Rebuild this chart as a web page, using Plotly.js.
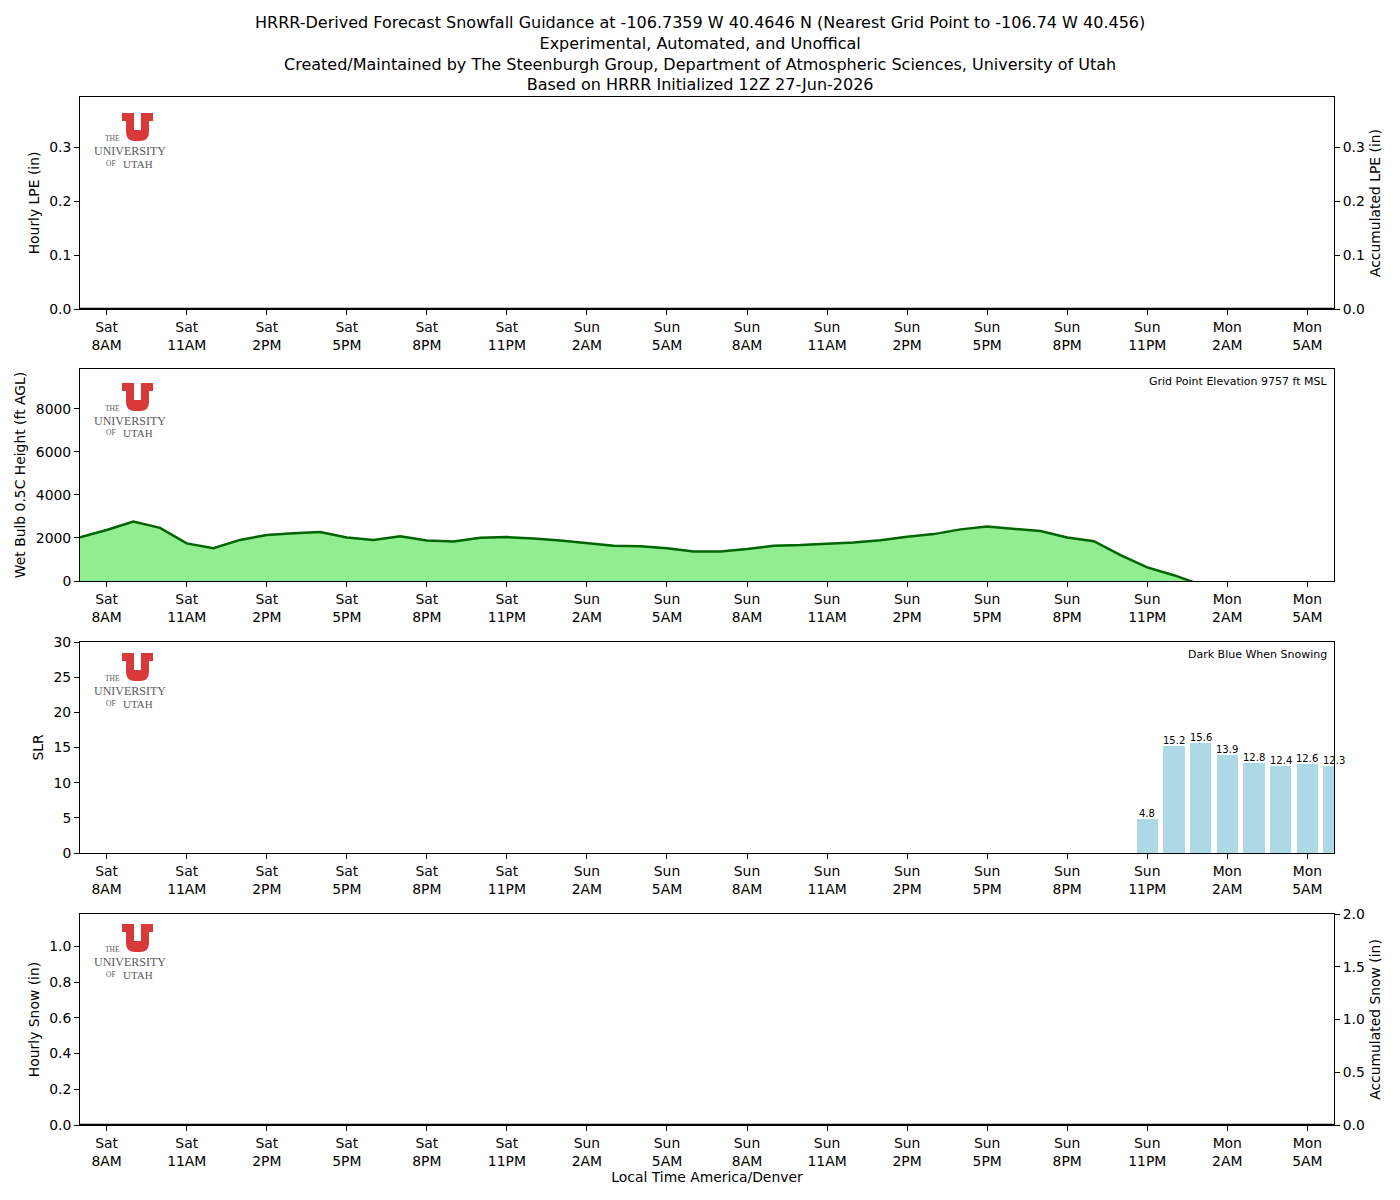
<!DOCTYPE html>
<html>
<head>
<meta charset="utf-8">
<script src="https://cdn.plot.ly/plotly-3.0.1.min.js"></script>
<style>html,body{margin:0;padding:0;background:#fff;}#chart{width:1400px;height:1200px;}</style>
</head>
<body>
<div id="chart"></div>
<script>
// ---------------- DATA ----------------
// hour offset from the first forecast hour (Sat 7AM local)
const hourIndex = [0,1,2,3,4,5,6,7,8,9,10,11,12,13,14,15,16,17,18,19,20,21,22,23,
                   24,25,26,27,28,29,30,31,32,33,34,35,36,37,38,39,40,41,42,43,44,45,46,47];
const tickHours = [1,4,7,10,13,16,19,22,25,28,31,34,37,40,43,46];
const tickLabels = ["Sat<br>8AM","Sat<br>11AM","Sat<br>2PM","Sat<br>5PM","Sat<br>8PM","Sat<br>11PM",
                    "Sun<br>2AM","Sun<br>5AM","Sun<br>8AM","Sun<br>11AM","Sun<br>2PM","Sun<br>5PM",
                    "Sun<br>8PM","Sun<br>11PM","Mon<br>2AM","Mon<br>5AM"];
const hourlyLpe = [0,0,0,0,0,0,0,0,0,0,0,0,0,0,0,0,0,0,0,0,0,0,0,0,0,0,0,0,0,0,0,0,0,0,0,0,0,0,0,0,0,0,0,0,0,0,0,0];
const accumLpe  = [0,0,0,0,0,0,0,0,0,0,0,0,0,0,0,0,0,0,0,0,0,0,0,0,0,0,0,0,0,0,0,0,0,0,0,0,0,0,0,0,0,0,0,0,0,0,0,0];
const wetBulbHeight = [2030,2370,2760,2470,1750,1520,1910,2140,2220,2280,2020,1910,
                       2080,1880,1840,2010,2040,1980,1880,1750,1640,1610,1520,1370,
                       1370,1490,1640,1670,1730,1790,1900,2060,2180,2400,2530,2420,
                       2320,2020,1850,1200,630,270,-170,-450,-700,-850,-950,-1000];
const slr = [null,null,null,null,null,null,null,null,null,null,null,null,
             null,null,null,null,null,null,null,null,null,null,null,null,
             null,null,null,null,null,null,null,null,null,null,null,null,
             null,null,null,null,4.8,15.2,15.6,13.9,12.8,12.4,12.6,12.3];
const hourlySnow = [0,0,0,0,0,0,0,0,0,0,0,0,0,0,0,0,0,0,0,0,0,0,0,0,0,0,0,0,0,0,0,0,0,0,0,0,0,0,0,0,0,0,0,0,0,0,0,0];
const accumSnow  = [0,0,0,0,0,0,0,0,0,0,0,0,0,0,0,0,0,0,0,0,0,0,0,0,0,0,0,0,0,0,0,0,0,0,0,0,0,0,0,0,0,0,0,0,0,0,0,0];
const gridElevationFt = 9757;

const titleLines = [
  "HRRR-Derived Forecast Snowfall Guidance at -106.7359 W 40.4646 N (Nearest Grid Point to -106.74 W 40.456)",
  "Experimental, Automated, and Unoffical",
  "Created/Maintained by The Steenburgh Group, Department of Atmospheric Sciences, University of Utah",
  "Based on HRRR Initialized 12Z 27-Jun-2026"
];

// ---------------- STYLE ----------------
const FONT = "DejaVu Sans, Liberation Sans, sans-serif";
const FS = 13.9;
const W = 1400, H = 1200;
const M = {l:80, r:66, t:97, b:75};
const PW = W - M.l - M.r, PH = H - M.t - M.b;
const px2x = p => (p - M.l) / PW;
const px2y = p => (H - M.b - p) / PH;

function xAxis(anchor, showTitle){
  const a = {
    anchor: anchor, domain:[0,1], range:[0,47], tickmode:'array', tickvals:tickHours, ticktext:tickLabels,
    ticks:'outside', ticklen:5, tickwidth:1, tickcolor:'#000', showline:true, linecolor:'#000', linewidth:1,
    mirror:true, showgrid:false, zeroline:false, tickfont:{family:FONT,size:FS,color:'#000'}
  };
  if(showTitle) a.title = {text:'Local Time America/Denver', font:{family:FONT,size:FS,color:'#000'}, standoff:4};
  return a;
}
function yAxis(domain, range, dtick, fmt, title, extra){
  const a = {
    domain: domain, range: range, dtick: dtick, tick0:0, tickformat: fmt, ticks:'outside', ticklen:5, tickwidth:1,
    tickcolor:'#000', showline:true, linecolor:'#000', linewidth:1, mirror:true, showgrid:false, zeroline:false,
    tickfont:{family:FONT,size:FS,color:'#000'},
    title:{text:title, font:{family:FONT,size:FS,color:'#000'}, standoff:6}
  };
  return Object.assign(a, extra||{});
}

const dom1 = [px2y(309), px2y(97)];
const dom2 = [px2y(581), px2y(369)];
const dom3 = [px2y(853), px2y(642)];
const dom4 = [px2y(1125), px2y(914)];

const traces = [
  {type:'bar', x:hourIndex, y:hourlyLpe, xaxis:'x', yaxis:'y', marker:{color:'#1f77b4'}, width:0.8, showlegend:false, hoverinfo:'skip'},
  {type:'scatter', mode:'lines', x:hourIndex, y:accumLpe, xaxis:'x', yaxis:'y2', line:{color:'#000', width:2.5}, cliponaxis:false, showlegend:false},
  {type:'scatter', mode:'lines', x:hourIndex, y:wetBulbHeight, xaxis:'x2', yaxis:'y3', fill:'tozeroy',
   fillcolor:'#90ee90', line:{color:'#006400', width:2.5}, showlegend:false},
  {type:'bar', x:hourIndex, y:slr, xaxis:'x3', yaxis:'y4', marker:{color:'#add8e6'}, width:0.8, showlegend:false},
  {type:'bar', x:hourIndex, y:hourlySnow, xaxis:'x4', yaxis:'y5', marker:{color:'#00008b'}, width:0.8, showlegend:false, hoverinfo:'skip'},
  {type:'scatter', mode:'lines', x:hourIndex, y:accumSnow, xaxis:'x4', yaxis:'y6', line:{color:'#000', width:2.5}, cliponaxis:false, showlegend:false}
];

const annotations = [];
// title (single multi-line text block, centred on the figure)
annotations.push({xref:'paper', yref:'paper', x:px2x(700), y:px2y(54), xanchor:'center', yanchor:'middle',
  text:titleLines.join('<br>'), align:'center', showarrow:false, borderpad:0, font:{family:FONT,size:16,color:'#000'}});
// bar value labels for SLR
slr.forEach((v,i)=>{
  if(v!==null && v!==undefined){
    annotations.push({xref:'x3', yref:'y4', x:hourIndex[i], y:v, text:v.toFixed(1), showarrow:false,
      yanchor:'bottom', xanchor:'center', yshift:-2, font:{family:FONT,size:10,color:'#000'}});
  }
});
annotations.push({xref:'paper', yref:'paper', x:px2x(1329), y:px2y(373), xanchor:'right', yanchor:'top',
  text:'Grid Point Elevation ' + gridElevationFt + ' ft MSL', showarrow:false, font:{family:FONT,size:11,color:'#000'}});
annotations.push({xref:'paper', yref:'paper', x:px2x(1329), y:px2y(646), xanchor:'right', yanchor:'top',
  text:'Dark Blue When Snowing', showarrow:false, font:{family:FONT,size:11,color:'#000'}});

// University of Utah logo (shape + text) in each panel
const shapes = [];
const logoTops = [113, 383, 653, 924];
const RED = '#d83a3a', GREY = '#5a5a5a', SERIF = 'Liberation Serif, DejaVu Serif, serif';
logoTops.forEach(uy=>{
  const ux = 122;
  const P = (dx,dy) => px2x(ux+dx).toFixed(5) + ',' + px2y(uy+dy).toFixed(5);
  const path = 'M' + P(0,0) + ' L' + P(12,0) + ' L' + P(12,17) + ' L' + P(19,17) + ' L' + P(19,0) +
    ' L' + P(31,0) + ' L' + P(31,8) + ' L' + P(27,8) + ' L' + P(27,19) + ' Q' + P(27,28) + ' ' + P(18,28) +
    ' L' + P(13,28) + ' Q' + P(4,28) + ' ' + P(4,19) + ' L' + P(4,8) + ' L' + P(0,8) + ' Z';
  shapes.push({type:'path', xref:'paper', yref:'paper', path:path, fillcolor:RED, line:{width:0}, layer:'above'});
  annotations.push({xref:'paper', yref:'paper', x:px2x(112.5), y:px2y(uy+25.5), text:'THE', showarrow:false,
    xanchor:'center', yanchor:'middle', borderpad:0, font:{family:SERIF,size:7.5,color:GREY}});
  annotations.push({xref:'paper', yref:'paper', x:px2x(130), y:px2y(uy+37.5), text:'UNIVERSITY', showarrow:false,
    xanchor:'center', yanchor:'middle', borderpad:0, font:{family:SERIF,size:12,color:GREY}});
  annotations.push({xref:'paper', yref:'paper', x:px2x(111), y:px2y(uy+50), text:'OF', showarrow:false,
    xanchor:'center', yanchor:'middle', borderpad:0, font:{family:SERIF,size:7.5,color:GREY}});
  annotations.push({xref:'paper', yref:'paper', x:px2x(137.5), y:px2y(uy+50.5), text:'UTAH', showarrow:false,
    xanchor:'center', yanchor:'middle', borderpad:0, font:{family:SERIF,size:11,color:GREY}});
});

const layout = {
  width:W, height:H, margin:M, paper_bgcolor:'#fff', plot_bgcolor:'#fff', showlegend:false, bargap:0,
  font:{family:FONT, size:FS, color:'#000'},
  xaxis: xAxis('y', false),
  yaxis: yAxis(dom1, [0,0.3937], 0.1, '.1f', 'Hourly LPE (in)'),
  yaxis2: yAxis(dom1, [0,0.3937], 0.1, '.1f', 'Accumulated LPE (in)', {overlaying:'y', side:'right', anchor:'x', mirror:false}),
  xaxis2: xAxis('y3', false),
  yaxis3: yAxis(dom2, [0,9857], 2000, 'd', 'Wet Bulb 0.5C Height (ft AGL)'),
  xaxis3: xAxis('y4', false),
  yaxis4: yAxis(dom3, [0,30], 5, 'd', 'SLR'),
  xaxis4: xAxis('y5', true),
  yaxis5: yAxis(dom4, [0,1.181], 0.2, '.1f', 'Hourly Snow (in)'),
  yaxis6: yAxis(dom4, [0,2.0], 0.5, '.1f', 'Accumulated Snow (in)', {overlaying:'y5', side:'right', anchor:'x4', mirror:false}),
  annotations: annotations,
  shapes: shapes
};

Plotly.newPlot('chart', traces, layout, {displayModeBar:false, staticPlot:true});
</script>
</body>
</html>
